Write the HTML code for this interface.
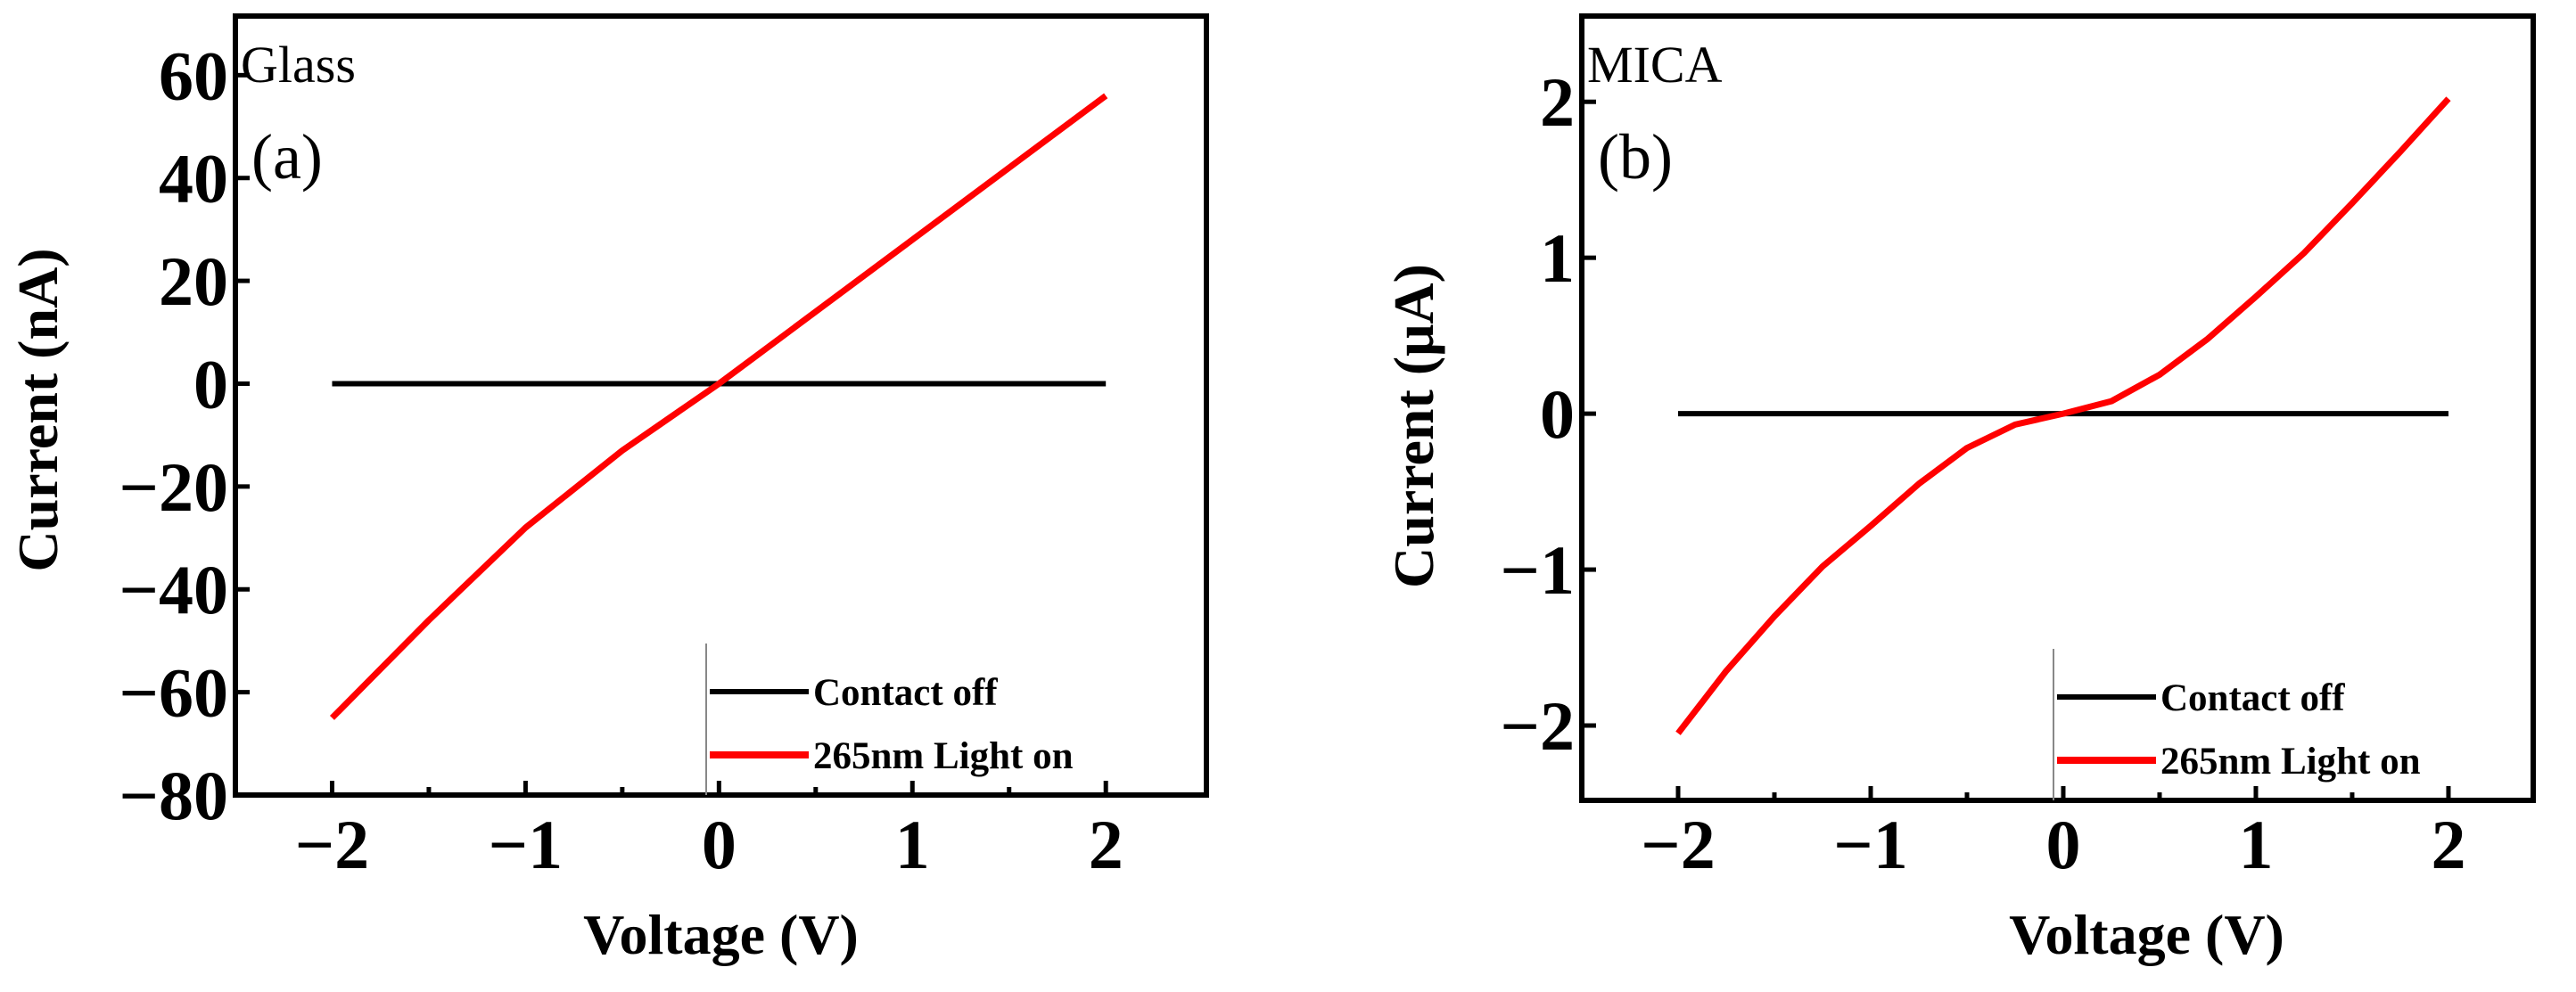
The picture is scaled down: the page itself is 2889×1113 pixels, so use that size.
<!DOCTYPE html>
<html><head><meta charset="utf-8"><style>
html,body{margin:0;padding:0;background:#fff;}
svg{display:block;}
text{font-family:"Liberation Serif",serif;}
</style></head><body>
<svg id="fig" width="2889" height="1113" viewBox="0 0 2889 1113" xmlns="http://www.w3.org/2000/svg"></svg>
<script>
// Panel (a) data: Glass
const aVolt = [-2, -1.5, -1, -0.5, 0, 0.5, 1, 1.5, 2];
const aLight = [-65, -46, -28, -13, 0, 14, 28, 42, 56];
const aOff = [0, 0, 0, 0, 0, 0, 0, 0, 0];
const aYTicks = [60, 40, 20, 0, -20, -40, -60, -80];
const aXTicks = [-2, -1, 0, 1, 2];
// Panel (b) data: MICA
const bVolt = [-2, -1.75, -1.5, -1.25, -1, -0.75, -0.5, -0.25, 0, 0.25, 0.5, 0.75, 1, 1.25, 1.5, 1.75, 2];
const bLight = [-2.05, -1.65, -1.3, -0.98, -0.72, -0.45, -0.22, -0.07, 0, 0.08, 0.25, 0.48, 0.75, 1.03, 1.35, 1.68, 2.02];
const bOff = [0, 0, 0, 0, 0, 0, 0, 0, 0, 0, 0, 0, 0, 0, 0, 0, 0];
const bYTicks = [2, 1, 0, -1, -2];
const bXTicks = [-2, -1, 0, 1, 2];

const NS = "http://www.w3.org/2000/svg";
const svg = document.getElementById('fig');
function el(tag, attrs, parent, txt) {
  const e = document.createElementNS(NS, tag);
  for (const k in attrs) e.setAttribute(k, attrs[k]);
  if (txt !== undefined) e.textContent = txt;
  (parent || svg).appendChild(e);
  return e;
}
function fmt(v){ return v < 0 ? '\u2212' + Math.abs(v) : String(v); }

function panel(cfg) {
  const g = el('g', {});
  
  
  const L = cfg.L, R = cfg.R, T = cfg.T, B = cfg.B;
  const sx = v => L + (v - cfg.xmin) / (cfg.xmax - cfg.xmin) * (R - L);
  const sy = v => B - (v - cfg.ymin) / (cfg.ymax - cfg.ymin) * (B - T);
  cfg.xTicks.forEach((t, i) => {
    const tk = el('line', {x1: sx(t), x2: sx(t), y1: B, y2: B - 16, stroke: '#000', 'stroke-width': 5}, g);
    
    
    if (i < cfg.xTicks.length - 1) {
      const mt = el('line', {x1: sx(t + 0.5), x2: sx(t + 0.5), y1: B, y2: B - 9, stroke: '#000', 'stroke-width': 5}, g);
      
      
    }
    const lb = el('text', {x: sx(t), y: cfg.xLabY, 'text-anchor': 'middle', 'font-size': 78, 'font-weight': 'bold'}, g, fmt(t));
    
    
  });
  cfg.yTicks.forEach(t => {
    const tk = el('line', {x1: L, x2: L + 16, y1: sy(t), y2: sy(t), stroke: '#000', 'stroke-width': 5}, g);
    
    
    const lb = el('text', {x: L - 8, y: sy(t) + 27, 'text-anchor': 'end', 'font-size': 78, 'font-weight': 'bold'}, g, fmt(t));
    
    
  });
  const offPts = cfg.volt.map((v, i) => sx(v) + ',' + sy(cfg.off[i])).join(' ');
  const off = el('polyline', {points: offPts, fill: 'none', stroke: '#000', 'stroke-width': 6}, g);
  
  
  const onPts = cfg.volt.map((v, i) => sx(v) + ',' + sy(cfg.light[i])).join(' ');
  const on = el('polyline', {points: onPts, fill: 'none', stroke: '#ff0000', 'stroke-width': 7, 'stroke-linejoin': 'round'}, g);
  
  
  const fr = el('rect', {x: L, y: T, width: R - L, height: B - T, fill: 'none', stroke: '#000', 'stroke-width': 6}, g);
  
  
  const lg = el('g', {}, g);
  
  
  const lx = cfg.legX;
  el('line', {x1: lx, x2: lx, y1: B - 170, y2: B, stroke: '#888', 'stroke-width': 2}, lg);
  const e1 = el('line', {x1: lx + 4, x2: lx + 115, y1: B - 116, y2: B - 116, stroke: '#000', 'stroke-width': 6}, lg);
  
  
  el('text', {x: lx + 120, y: B - 101, 'font-size': 43, 'font-weight': 'bold'}, lg, 'Contact off');
  const e2 = el('line', {x1: lx + 4, x2: lx + 115, y1: B - 45, y2: B - 45, stroke: '#ff0000', 'stroke-width': 8}, lg);
  
  
  el('text', {x: lx + 120, y: B - 30, 'font-size': 43, 'font-weight': 'bold'}, lg, '265nm Light on');
  const st = el('text', {x: L + 6, y: T + 74, 'font-size': 58}, g, cfg.sample);
  
  
  const pl = el('text', {x: L + 18, y: T + 182, 'font-size': 72}, g, cfg.letter);
  
  
  const xt = el('text', {x: (L + R) / 2 + cfg.xtOff, y: 1070, 'text-anchor': 'middle', 'font-size': 64, 'font-weight': 'bold'}, g, 'Voltage (V)');
  
  
  const yt = el('text', {x: 0, y: 0, 'text-anchor': 'middle', 'font-size': 64, 'font-weight': 'bold', transform: 'translate(' + cfg.ytX + ',' + cfg.ytY + ') rotate(-90)'}, g, cfg.yTitle);
  
  
}

panel({name: 'panel-a-glass', L: 264, R: 1353, T: 18, B: 892, xmin: -2.5, xmax: 2.52, ymin: -80, ymax: 71.5,
  volt: aVolt, light: aLight, off: aOff, yTicks: aYTicks, xTicks: aXTicks, xLabY: 974,
  legX: 792, sample: 'Glass', letter: '(a)', yTitle: 'Current (nA)', ytX: 64, ytY: 460, xtOff: 0});
panel({name: 'panel-b-mica', L: 1774, R: 2841, T: 18, B: 898, xmin: -2.5, xmax: 2.44, ymin: -2.48, ymax: 2.55,
  volt: bVolt, light: bLight, off: bOff, yTicks: bYTicks, xTicks: bXTicks, xLabY: 974,
  legX: 2303, sample: 'MICA', letter: '(b)', yTitle: 'Current (\u03bcA)', ytX: 1607, ytY: 478, xtOff: 100});
</script>
</body></html>
